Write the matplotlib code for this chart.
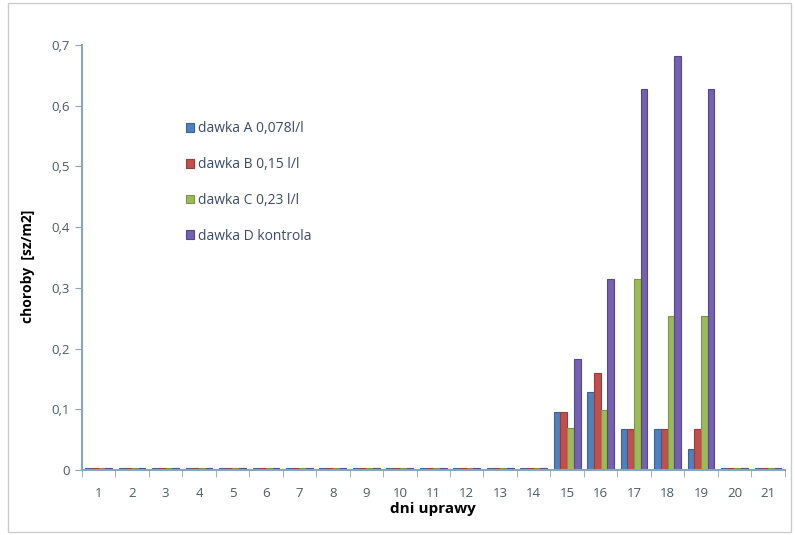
import numpy as np
import matplotlib.pyplot as plt
from matplotlib.patches import Rectangle

# dane
days = [str(d) for d in range(1, 22)]
eps = 0.004
dawka_a = [eps] * 14 + [0.095, 0.128, 0.067, 0.067, 0.035] + [eps] * 2
dawka_b = [eps] * 14 + [0.095, 0.160, 0.067, 0.067, 0.067] + [eps] * 2
dawka_c = [eps] * 14 + [0.069, 0.099, 0.315, 0.254, 0.254] + [eps] * 2
dawka_d = [eps] * 14 + [0.183, 0.315, 0.628, 0.682, 0.628] + [eps] * 2

series = [
    ("dawka A 0,078l/l", dawka_a, "#4F81BD", "#3A6495"),
    ("dawka B 0,15 l/l", dawka_b, "#C0504D", "#9A3B38"),
    ("dawka C 0,23 l/l", dawka_c, "#9BBB59", "#7A9645"),
    ("dawka D kontrola", dawka_d, "#7461B0", "#56478A"),
]

plt.rcParams["font.family"] = ["Open Sans", "DejaVu Sans"]

fig = plt.figure(figsize=(7.95, 5.35), dpi=100)
ax = fig.add_axes([0.103, 0.1215, 0.884, 0.7945])

x = np.arange(len(days))
w = 0.2
for i, (name, vals, col, edge) in enumerate(series):
    ax.bar(x + (i - 1.5) * w, vals, w, color=col, edgecolor=edge, linewidth=0.8, label=name)

axis_col = "#8AA6BF"
ax.set_xlim(-0.5, len(days) - 0.5)
ax.set_ylim(0, 0.7)
ax.set_yticks(np.arange(0, 0.71, 0.1))
ax.set_yticklabels(["0"] + [f"{v:.1f}".replace(".", ",") for v in np.arange(0.1, 0.71, 0.1)])
ax.set_xticks(x)
ax.set_xticklabels(days)
ax.set_xticks(np.arange(-0.5, len(days), 1), minor=True)
ax.tick_params(axis="x", which="major", length=0, pad=12, labelsize=9.5, labelcolor="#4a5a6a")
ax.tick_params(axis="x", which="minor", length=5, color=axis_col, direction="out")
ax.tick_params(axis="y", length=5, color=axis_col, labelsize=9.5, labelcolor="#4a5a6a")
for s in ["top", "right"]:
    ax.spines[s].set_visible(False)
ax.spines["left"].set_color(axis_col)
ax.spines["bottom"].set_color(axis_col)
ax.spines["left"].set_linewidth(1.5)
ax.spines["bottom"].set_linewidth(1.5)

ax.set_xlabel("dni uprawy", fontsize=11, fontweight="bold", labelpad=2)
ax.set_ylabel("choroby  [sz/m2]", fontsize=10, fontweight="bold")
ax.yaxis.set_label_coords(-0.067, 0.48)

leg = ax.legend(loc="upper left", bbox_to_anchor=(0.13, 0.85), frameon=False,
                fontsize=10, handlelength=0.6, handleheight=0.6, handletextpad=0.3,
                labelspacing=1.5, labelcolor="#3a4a6a")

fig.patches.append(Rectangle((0.01, 0.005), 0.985, 0.99, transform=fig.transFigure,
                             fill=False, edgecolor="#cccccc", linewidth=1))

fig.savefig("out.png", dpi=100)
